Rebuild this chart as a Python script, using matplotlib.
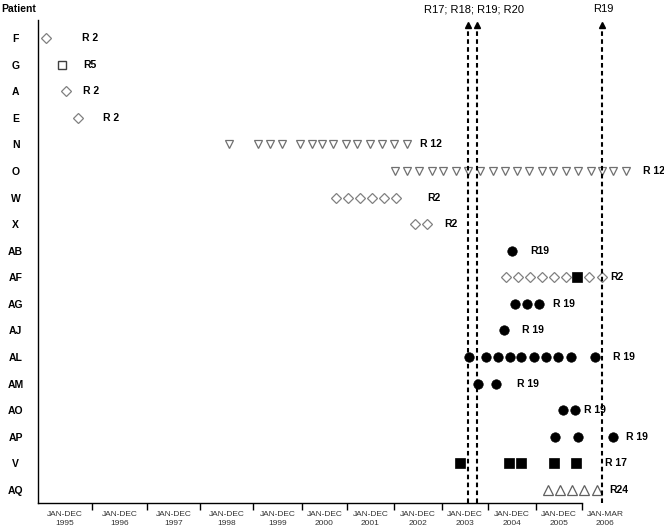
import numpy as np
import matplotlib
matplotlib.use('Agg')
import matplotlib.pyplot as plt
from matplotlib.ticker import FixedLocator, NullFormatter

plt.rcParams['font.family'] = ['Liberation Sans', 'DejaVu Sans']

# patients (top to bottom) and resistance label shown after each row
patients = ['F', 'G', 'A', 'E', 'N', 'O', 'W', 'X', 'AB', 'AF', 'AG', 'AJ',
            'AL', 'AM', 'AO', 'AP', 'V', 'AQ']
resist = ['R 2', 'R5', 'R 2', 'R 2', 'R 12', 'R 12', 'R2', 'R2', 'R19', 'R2',
          'R 19', 'R 19', 'R 19', 'R 19', 'R 19', 'R 19', 'R 17', 'R24']

# sampling dates (decimal years), grouped by marker type
diamond_open = {
    'F': [1995.15],
    'A': [1995.52],
    'E': [1995.74],
    'W': [2000.76, 2001.02, 2001.28, 2001.53, 2001.79, 2002.04],
    'X': [2002.44, 2002.69],
    'AF': [2004.38, 2004.63, 2004.88, 2005.13, 2005.39, 2005.65, 2006.04, 2006.11],
}
square_open = {'G': [1995.44]}
tri_down = {
    'N': [1998.55, 1999.10, 1999.35, 1999.59, 1999.96, 2000.22, 2000.44,
          2000.69, 2000.98, 2001.21, 2001.49, 2001.74, 2002.00, 2002.27],
    'O': [2002.02, 2002.27, 2002.52, 2002.79, 2003.02, 2003.30, 2003.57,
          2003.83, 2004.10, 2004.35, 2004.60, 2004.85, 2005.13, 2005.37,
          2005.65, 2005.91, 2006.05, 2006.11, 2006.17, 2006.24],
}
circle_filled = {
    'AB': [2004.50],
    'AG': [2004.56, 2004.81, 2005.07],
    'AJ': [2004.33],
    'AL': [2003.59, 2003.96, 2004.21, 2004.46, 2004.69, 2004.96, 2005.22,
           2005.48, 2005.76, 2006.07],
    'AM': [2003.78, 2004.17],
    'AO': [2005.59, 2005.85],
    'AP': [2005.41, 2005.91, 2006.17],
}
square_filled = {
    'AF': [2005.89],
    'V': [2003.40, 2004.44, 2004.69, 2005.39, 2005.87],
}
tri_up = {'AQ': [2005.26, 2005.52, 2005.78, 2006.01, 2006.08]}

# events marked with dashed arrows
event_dates = [2003.57, 2003.76, 2006.11]
event_texts = ['R17; R18; R19; R20', 'R19']

period_labels = ['JAN-DEC\n%d' % y for y in range(1995, 2006)] + ['JAN-MAR\n2006']

# piecewise time axis (periods are not drawn equally wide)
edge_years = [1995, 1996, 1997, 1998, 1999, 2000, 2001, 2002, 2003, 2004,
              2005, 2006, 2006.25, 2006.5]
edge_px = [38, 92, 147, 200, 253, 302, 347, 394, 442, 488, 536, 582, 628, 674]


def fwd(x):
    return np.interp(x, edge_years, edge_px)


def inv(p):
    return np.interp(p, edge_px, edge_years)


fig = plt.figure(figsize=(6.64, 5.27), dpi=100)
ax = fig.add_axes([38 / 664, 24 / 527, 1 - 38 / 664, 483 / 527])
ax.set_xscale('function', functions=(fwd, inv))
ax.set_xlim(1995, inv(664))
ax.set_ylim(17.49, -0.68)

row = {p: i for i, p in enumerate(patients)}

styles = [
    (diamond_open, dict(marker='D', ms=5.2, mfc='white', mec='#808080', mew=0.9)),
    (square_open, dict(marker='s', ms=6.3, mfc='white', mec='#404040', mew=1)),
    (tri_down, dict(marker='v', ms=6.3, mfc='white', mec='#707070', mew=0.9)),
    (circle_filled, dict(marker='o', ms=6.8, mfc='black', mec='black', mew=0.5)),
    (square_filled, dict(marker='s', ms=7, mfc='black', mec='black', mew=0.5)),
    (tri_up, dict(marker='^', ms=7, mfc='white', mec='#606060', mew=0.9)),
]
for data, st in styles:
    for p, dates in data.items():
        ax.plot(dates, [row[p]] * len(dates), ls='none', zorder=2, **st)

# label after last sample of each row
label_gap = [36, 21, 17, 25, 13, 17, 31, 17, 18, 8, 14, 18, 18, 21, 9, 13, 29, 13]
for i, p in enumerate(patients):
    last = max(d for data, _ in styles for d in data.get(p, []))
    ax.annotate(resist[i], xy=(last, i), xytext=(label_gap[i], 0),
                textcoords='offset pixels', va='center', ha='left',
                fontsize=7.5, fontweight='bold', annotation_clip=False)

# dashed arrows
for d in event_dates:
    ax.plot([d, d], [17.49, -0.45], color='black', lw=1.5, ls='--',
            dashes=(2.2, 1.6), zorder=3)
    ax.plot([d], [-0.5], marker='^', ms=4.5, color='black', zorder=3, clip_on=False)
trans = ax.get_xaxis_transform()
ax.text(np.mean(event_dates[:2]) + 0.02, 1.022, event_texts[0], transform=trans,
        ha='center', va='center', fontsize=8)
ax.text(event_dates[2] + 0.005, 1.022, event_texts[1], transform=trans,
        ha='center', va='center', fontsize=8)

# axes
for s in ['top', 'right']:
    ax.spines[s].set_visible(False)
ax.spines['bottom'].set_bounds(1995, 2006)
ax.spines['left'].set_linewidth(1.0)
ax.spines['bottom'].set_linewidth(1.0)

ax.xaxis.set_major_locator(FixedLocator(list(range(1996, 2007))))
ax.xaxis.set_major_formatter(NullFormatter())
centers = [y + 0.5 for y in range(1995, 2006)] + [2006.125]
ax.xaxis.set_minor_locator(FixedLocator(centers))
ax.set_xticklabels(period_labels, minor=True, linespacing=1.35)
ax.tick_params(axis='x', which='major', length=5, width=1, direction='out')
ax.tick_params(axis='x', which='minor', length=0, pad=6, labelsize=6,
               labelcolor='#333333')

ax.set_yticks(range(len(patients)))
ax.set_yticklabels(patients, fontweight='bold', fontsize=7.5)
ax.tick_params(axis='y', length=0, pad=16)
for t in ax.get_yticklabels():
    t.set_horizontalalignment('center')

fig.text(1 / 664, 1 - 9 / 527, 'Patient', fontsize=7.5, fontweight='bold',
         ha='left', va='center')

fig.savefig('out.png', dpi=100)
